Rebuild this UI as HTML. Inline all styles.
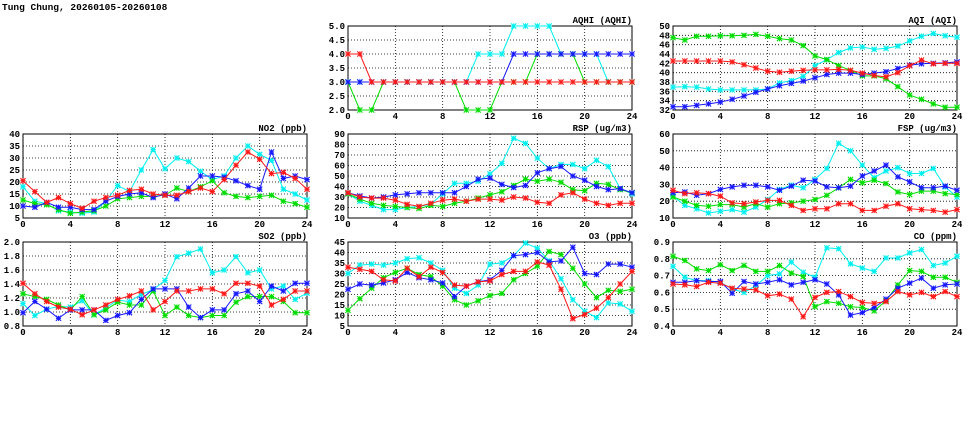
<!DOCTYPE html>
<html><head><meta charset="utf-8"><style>
html,body{margin:0;padding:0;background:#fff;}
svg{display:block;font-family:"Liberation Mono","DejaVu Sans Mono",monospace;}
text{font-weight:bold;font-size:9px;fill:#000;}
</style></head><body>
<svg id="chart" width="975" height="447" viewBox="0 0 975 447" xmlns="http://www.w3.org/2000/svg">
<text x="2" y="10" style="font-size:9.5px">Tung Chung, 20260105-20260108</text>
</svg>
<script>
const hours=[0,1,2,3,4,5,6,7,8,9,10,11,12,13,14,15,16,17,18,19,20,21,22,23,24];
const xTicks=[0,4,8,12,16,20,24];
const seriesColors=['#00f0f0','#00dd00','#1818ff','#ff1818'];
const seriesNames=['cyan','green','blue','red'];
const no2Ticks=[5,10,15,20,25,30,35,40];
const no2Cyan=[18,12,11,8,7.5,7,7.5,12,18.5,16,25,33.5,25.5,30,28.5,24.5,21,22.5,30,35,31.5,29,17,15,12.5];
const no2Green=[12.5,11,10.5,8.5,7,7.5,8,10,13,13.5,14,14,14.5,17.5,16,18,20.5,15.5,14,13.5,14,14.5,12,11,9.5];
const no2Blue=[10,9.5,11.5,9.5,9.5,8.5,8.5,12,14,15,15.5,13.5,15,13,17.5,22.5,22.5,22,20.5,18.5,17,32.5,21.5,22.5,21];
const no2Red=[20.5,16,11.5,13.5,11,9,12,13.5,14.5,16.5,17,15,14.5,14.5,16,17.5,16,21,27,32.5,29.5,23.5,24,21.5,17];
const aqhiTicks=[2.0,2.5,3.0,3.5,4.0,4.5,5.0];
const aqhiCyan=[3,3,3,3,3,3,3,3,3,3,3,4,4,4,5,5,5,5,4,4,4,4,3,3,3];
const aqhiGreen=[3,2,2,3,3,3,3,3,3,3,2,2,2,3,3,3,4,4,4,4,3,3,3,3,3];
const aqhiBlue=[3,3,3,3,3,3,3,3,3,3,3,3,3,3,4,4,4,4,4,4,4,4,4,4,4];
const aqhiRed=[4,4,3,3,3,3,3,3,3,3,3,3,3,3,3,3,3,3,3,3,3,3,3,3,3];
const aqiTicks=[32,34,36,38,40,42,44,46,48,50];
const aqiCyan=[36.9,37,36.9,36.5,36.3,36.3,36.3,36.3,36.5,37.8,38.3,39.2,41.5,42.8,44.3,45.3,45.5,45,45.2,45.7,46.8,47.8,48.4,47.9,47.6];
const aqiGreen=[47.5,47,47.8,47.8,47.9,47.9,48,48.2,47.8,47.3,47,45.8,43.6,42.8,41.5,40.5,39.3,39.3,38.7,37,35.2,34.3,33.3,32.6,32.6];
const aqiBlue=[32.7,32.7,33,33.3,33.7,34.3,35,35.8,36.5,37.2,37.7,38.2,38.9,39.6,39.9,39.9,39.6,39.9,40.2,40.9,41.6,41.9,42,42.1,42.3];
const aqiRed=[42.5,42.5,42.5,42.5,42.5,42.3,41.7,41,40.3,40.1,40.3,40.5,40.6,40.6,40.7,40.5,39.9,39.4,39.1,40,41.5,42.7,41.9,42,42];
const rspTicks=[10,20,30,40,50,60,70,80,90];
const rspCyan=[33,26,22,18,18,20,21,23,33,43,43,45,52,62,86,81,67,57,61,61,57,65,59,38,33];
const rspGreen=[33,28,24,22,21,20,19,22,21,24,26,29,32,35,41,47,45,47,44,37,36,43,42,37,34];
const rspBlue=[34,31,29,30,32,33,34,34,34,34,40,47,48,42,39,41,53,57,59,50,46,40,37,38,34];
const rspRed=[34,30,29,29,27,23,21,24,27,28,26,28,28,27,30,29,25,24,32,34,28,24,22,24,24];
const fspTicks=[10,20,30,40,50,60];
const fspCyan=[23,17.5,15.5,13,14,15,13.5,16.5,21,27,29.5,28,33,39.5,54.5,50,41.5,34,38,40,36.5,36.5,39.5,28.5,22.5];
const fspGreen=[22.5,20,17.5,17,18,18,16.5,18.5,16.5,18.5,19,20,21,23.5,28,33,31,32.5,30.5,25.5,24,26,26,24.5,24];
const fspBlue=[25,25.5,23.5,24.5,27,28.5,29.5,29.5,28.5,26.5,29,32.5,32,28.5,28,29,35,38,41.5,34.5,31.5,28,28,29,26.5];
const fspRed=[26.5,24.5,25,24.5,23,19,18.5,19.5,20.5,20.5,17.5,14.5,15.5,15.5,18.5,18.5,14.5,14.5,17,18.5,15.5,15,14.5,13.5,15];
const so2Ticks=[0.8,1.0,1.2,1.4,1.6,1.8,2.0];
const so2Cyan=[1.12,0.95,1.04,1.08,1.07,1.16,0.96,1.06,1.17,1.15,1.25,1.32,1.45,1.79,1.84,1.9,1.56,1.6,1.79,1.56,1.6,1.33,1.37,1.18,1.27];
const so2Green=[1.26,1.22,1.18,1.1,1.03,1.22,0.96,1.03,1.14,1.1,1.1,1.3,0.95,1.07,0.95,0.92,0.95,0.95,1.14,1.22,1.22,1.22,1.15,0.99,0.99];
const so2Blue=[0.99,1.15,1.04,0.91,1.03,1.03,1.03,0.88,0.95,0.99,1.18,1.33,1.33,1.33,1.07,0.92,1.03,1.03,1.26,1.3,1.15,1.37,1.3,1.41,1.41];
const so2Red=[1.41,1.26,1.15,1.07,1.04,0.96,1.03,1.1,1.18,1.23,1.3,1.03,1.15,1.3,1.3,1.33,1.33,1.26,1.41,1.41,1.37,1.1,1.18,1.3,1.3];
const o3Ticks=[5,10,15,20,25,30,35,40,45];
const o3Cyan=[30,34,34.5,34,35,37,37.5,35,31.5,23,20.5,24.5,34.5,35,38.5,44.5,42,36,27.5,17.5,12,9,16,15.5,12];
const o3Green=[12.5,18,23,28,30.5,32.5,29.5,28.5,24,17.5,15,17,19.5,20.5,27,30,33.5,40.5,39,32.5,25,18.5,22,21.5,22.5];
const o3Blue=[22.5,25,24.5,25.5,27,30.5,28,27,25.5,19,24,26,27,31.5,38.5,39,40,35.5,36,42.5,30,29.5,34.5,34.5,33];
const o3Red=[33,32,31,27,26.5,32.5,28.5,33,30.5,24.5,24,26,26.5,29.5,31,31,35.5,34,22.5,8.5,10.5,13.5,18.5,25,31];
const coTicks=[0.4,0.5,0.6,0.7,0.8,0.9];
const coCyan=[0.755,0.69,0.67,0.67,0.66,0.62,0.6,0.64,0.7,0.71,0.78,0.72,0.69,0.865,0.86,0.77,0.745,0.725,0.805,0.805,0.835,0.855,0.76,0.775,0.815];
const coGreen=[0.815,0.79,0.74,0.73,0.765,0.73,0.76,0.725,0.725,0.76,0.715,0.695,0.515,0.545,0.535,0.515,0.51,0.49,0.55,0.645,0.73,0.725,0.69,0.69,0.66];
const coBlue=[0.66,0.66,0.67,0.665,0.665,0.595,0.665,0.65,0.66,0.675,0.645,0.66,0.675,0.65,0.585,0.465,0.48,0.51,0.56,0.625,0.655,0.685,0.625,0.645,0.65];
const coRed=[0.65,0.645,0.635,0.66,0.655,0.625,0.62,0.615,0.58,0.59,0.56,0.455,0.57,0.6,0.605,0.575,0.54,0.535,0.545,0.605,0.585,0.6,0.575,0.605,0.575];

const panels=[
 {key:'aqhi',title:'AQHI (AQHI)',x:348,y:26,ticks:aqhiTicks,dec:1,series:[aqhiCyan,aqhiGreen,aqhiBlue,aqhiRed]},
 {key:'aqi',title:'AQI (AQI)',x:673,y:26,ticks:aqiTicks,dec:0,series:[aqiCyan,aqiGreen,aqiBlue,aqiRed]},
 {key:'no2',title:'NO2 (ppb)',x:23,y:134,ticks:no2Ticks,dec:0,series:[no2Cyan,no2Green,no2Blue,no2Red]},
 {key:'rsp',title:'RSP (ug/m3)',x:348,y:134,ticks:rspTicks,dec:0,series:[rspCyan,rspGreen,rspBlue,rspRed]},
 {key:'fsp',title:'FSP (ug/m3)',x:673,y:134,ticks:fspTicks,dec:0,series:[fspCyan,fspGreen,fspBlue,fspRed]},
 {key:'so2',title:'SO2 (ppb)',x:23,y:242,ticks:so2Ticks,dec:1,series:[so2Cyan,so2Green,so2Blue,so2Red]},
 {key:'o3',title:'O3 (ppb)',x:348,y:242,ticks:o3Ticks,dec:0,series:[o3Cyan,o3Green,o3Blue,o3Red]},
 {key:'co',title:'CO (ppm)',x:673,y:242,ticks:coTicks,dec:1,series:[coCyan,coGreen,coBlue,coRed]}
];
const W=284,H=84;
const NS='http://www.w3.org/2000/svg';
const svg=document.getElementById('chart');
function mk(tag,attrs,parent){const e=document.createElementNS(NS,tag);for(const k in attrs)e.setAttribute(k,attrs[k]);parent.appendChild(e);return e;}
panels.forEach(p=>{
 const g=mk('g',{},svg);
 
 
 const ymin=p.ticks[0],ymax=p.ticks[p.ticks.length-1];
 const sx=v=>p.x+v/24*W;
 const sy=v=>p.y+H-(v-ymin)/(ymax-ymin)*H;
 p.ticks.forEach((t,i)=>{
  const y=sy(t);
  if(i>0&&i<p.ticks.length-1){const l=mk('line',{x1:p.x,x2:p.x+W,y1:y,y2:y,stroke:'#000','stroke-width':0.8,'stroke-dasharray':'1,2'},g);
   }
  const tx=mk('text',{x:p.x-3,y:y+3,'text-anchor':'end'},g);tx.textContent=t.toFixed(p.dec);
  
 });
 xTicks.forEach((t,i)=>{
  const x=sx(t);
  if(i>0&&i<xTicks.length-1){const l=mk('line',{x1:x,x2:x,y1:p.y,y2:p.y+H,stroke:'#000','stroke-width':0.8,'stroke-dasharray':'1,2'},g);
   }
  const tx=mk('text',{x:x,y:p.y+H+9,'text-anchor':'middle'},g);tx.textContent=t;
  
 });
 const fr=mk('rect',{x:p.x,y:p.y,width:W,height:H,fill:'none',stroke:'#000','stroke-width':1},g);
 
 const ti=mk('text',{x:p.x+W,y:p.y-3,'text-anchor':'end'},g);ti.textContent=p.title;
 
 p.series.forEach((vals,si)=>{
  const c=seriesColors[si];
  const sg=mk('g',{},g);
  
  
  const pts=vals.map((v,i)=>sx(hours[i]).toFixed(1)+','+sy(v).toFixed(1)).join(' ');
  const pl=mk('polyline',{points:pts,fill:'none',stroke:c,'stroke-width':1},sg);
  
  vals.forEach((v,i)=>{
   const x=sx(hours[i]),y=sy(v),r=2.6;
   const m=mk('path',{d:`M${x-r},${y-r}L${x+r},${y+r}M${x-r},${y+r}L${x+r},${y-r}M${x-r},${y}L${x+r},${y}M${x},${y-r}L${x},${y+r}`,stroke:c,'stroke-width':1.1},sg);
   
  });
 });
});
</script>
</body></html>
